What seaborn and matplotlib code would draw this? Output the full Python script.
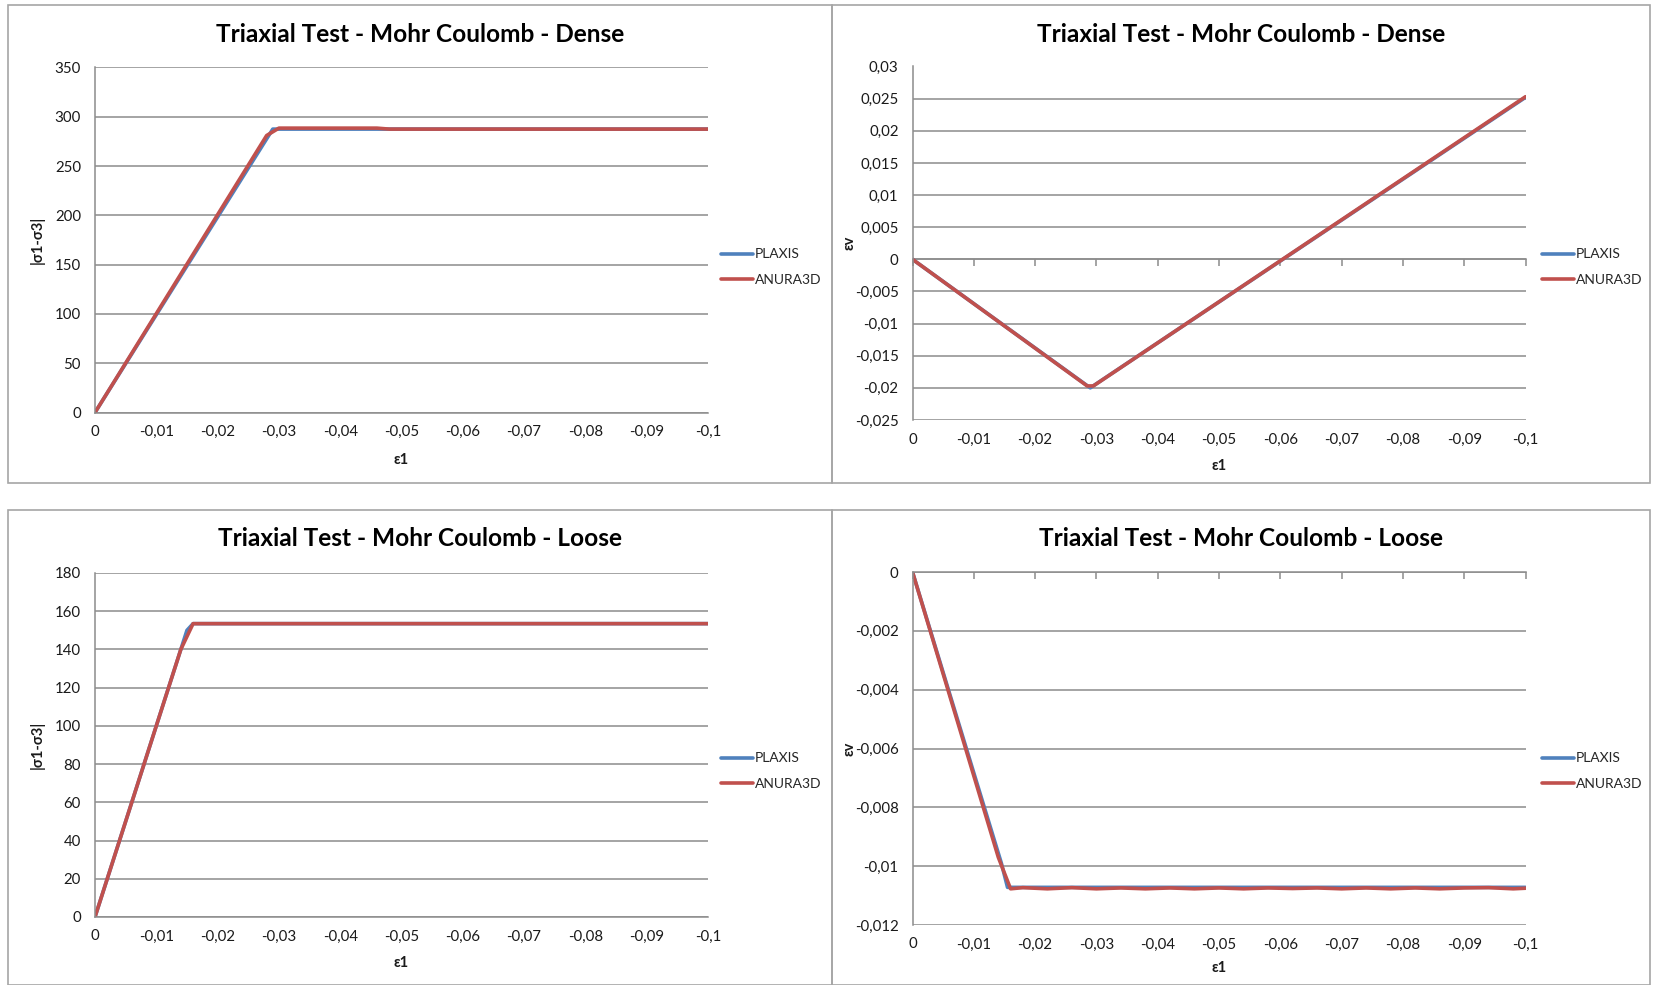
import numpy as np
import pandas as pd
import matplotlib
matplotlib.use("Agg")
import matplotlib.pyplot as plt
from matplotlib.ticker import FuncFormatter, MultipleLocator
from matplotlib.patches import Rectangle
import seaborn as sns

# ---------------- data ----------------
series_names = ["PLAXIS", "ANURA3D"]

# Dense: deviatoric stress
dense_q_plaxis_x = [0, -0.029, -0.030, -0.1]
dense_q_plaxis_y = [0, 287.5, 287.5, 287.5]
dense_q_anura_x = [0, -0.002, -0.028, -0.030, -0.046, -0.048, -0.1]
dense_q_anura_y = [0, 20, 281, 288.5, 288.5, 287.5, 287.5]

# Dense: volumetric strain
dense_ev_plaxis_x = [0, -0.029, -0.1]
dense_ev_plaxis_y = [0, -0.0200, 0.0252]
dense_ev_anura_x = [0, -0.0285, -0.0295, -0.1]
dense_ev_anura_y = [0, -0.0197, -0.0197, 0.0253]

# Loose: deviatoric stress
loose_q_plaxis_x = [0, -0.015, -0.016, -0.1]
loose_q_plaxis_y = [0, 150, 153.5, 153.5]
loose_q_anura_x = [0, -0.002, -0.014, -0.016, -0.1]
loose_q_anura_y = [0, 20, 140, 153.5, 153.5]

# Loose: volumetric strain
loose_ev_plaxis_x = [0, -0.0145, -0.0155, -0.1]
loose_ev_plaxis_y = [0, -0.0099, -0.01072, -0.01072]
loose_ev_anura_x = [0, -0.014, -0.016, -0.018, -0.022, -0.026, -0.030, -0.034,
                    -0.038, -0.042, -0.046, -0.050, -0.054, -0.058, -0.062,
                    -0.066, -0.070, -0.074, -0.078, -0.082, -0.086, -0.090,
                    -0.094, -0.098, -0.100]
loose_ev_anura_y = [0, -0.0097, -0.01077, -0.01073, -0.01077, -0.01073, -0.01077,
                    -0.01074, -0.01077, -0.01074, -0.01077, -0.01074, -0.01077,
                    -0.01074, -0.01076, -0.01074, -0.01077, -0.01074, -0.01077,
                    -0.01074, -0.01077, -0.01074, -0.01073, -0.01077, -0.01075]

titles = ["Triaxial Test - Mohr Coulomb - Dense", "Triaxial Test - Mohr Coulomb - Dense",
          "Triaxial Test - Mohr Coulomb - Loose", "Triaxial Test - Mohr Coulomb - Loose"]
ylabels = ["|σ1-σ3|", "εv", "|σ1-σ3|", "εv"]
xlabel = "ε1"
x_ticks = [0, -0.01, -0.02, -0.03, -0.04, -0.05, -0.06, -0.07, -0.08, -0.09, -0.1]

colors = {"PLAXIS": "#4F81BD", "ANURA3D": "#C0504D"}


def make_df(px, py, ax_, ay_):
    return pd.DataFrame({
        "x": list(px) + list(ax_),
        "y": list(py) + list(ay_),
        "series": ["PLAXIS"] * len(px) + ["ANURA3D"] * len(ax_),
    })


dfs = [
    make_df(dense_q_plaxis_x, dense_q_plaxis_y, dense_q_anura_x, dense_q_anura_y),
    make_df(dense_ev_plaxis_x, dense_ev_plaxis_y, dense_ev_anura_x, dense_ev_anura_y),
    make_df(loose_q_plaxis_x, loose_q_plaxis_y, loose_q_anura_x, loose_q_anura_y),
    make_df(loose_ev_plaxis_x, loose_ev_plaxis_y, loose_ev_anura_x, loose_ev_anura_y),
]

# ---------------- style ----------------
sns.set_theme(style="white")
FONT = ["Lato", "DejaVu Sans"]
plt.rcParams["font.family"] = FONT
GRID = "#8c8c8c"
TXT = "#1a1a1a"

W, H = 1654, 985
fig = plt.figure(figsize=(W / 100, H / 100), dpi=100)
fig.patch.set_facecolor("white")


def fx(px):
    return px / W


def fy(py):
    return 1 - py / H


# panel frames (pixel boxes)
panels = [(8, 5, 832, 483), (832, 5, 1650, 483), (8, 510, 832, 985), (832, 510, 1650, 985)]
for (x0, y0, x1, y1) in panels:
    fig.patches.append(Rectangle((fx(x0), fy(y1)), fx(x1 - x0), (y1 - y0) / H,
                                 transform=fig.transFigure, fill=False,
                                 edgecolor="#a6a6a6", linewidth=1.2, zorder=0))

# axes boxes in pixels: left, top, right, bottom
axes_px = [(95, 67.5, 708, 412.5), (912.5, 66.5, 1525.5, 420),
           (95, 573, 708, 917), (912.5, 572, 1525.5, 925)]
ylims = [(0, 350), (-0.025, 0.03), (0, 180), (-0.012, 0)]
ysteps = [50, 0.005, 20, 0.002]
xlabel_y = [-0.118, -0.111, -0.112, -0.103]
ylabel_x = [-0.082, -0.091, -0.082, -0.091]


def comma_fmt(v, pos=None):
    if abs(v) < 1e-12:
        return "0"
    s = f"{v:.6f}".rstrip("0").rstrip(".")
    return s.replace(".", ",")


for i, (l, t, r, b) in enumerate(axes_px):
    ax = fig.add_axes([fx(l), fy(b), (r - l) / W, (b - t) / H])
    sns.lineplot(data=dfs[i], x="x", y="y", hue="series", hue_order=series_names,
                 palette=colors, sort=False, estimator=None, linewidth=2.6,
                 ax=ax, legend=True)
    ax.set_xlim(0, -0.1)
    ax.set_ylim(*ylims[i])
    ax.yaxis.set_major_locator(MultipleLocator(ysteps[i]))
    ax.yaxis.set_major_formatter(FuncFormatter(comma_fmt))
    ax.set_xticks(x_ticks)
    ax.xaxis.set_major_formatter(FuncFormatter(comma_fmt))
    ax.grid(axis="y", color=GRID, linewidth=1.1)
    ax.grid(axis="x", visible=False)
    ax.set_axisbelow(True)
    for side in ["top", "right", "bottom"]:
        ax.spines[side].set_visible(False)
    ax.spines["left"].set_color(GRID)
    ax.spines["left"].set_linewidth(1.1)
    ax.tick_params(axis="y", length=0, pad=10, labelsize=10.8, labelcolor=TXT)
    ax.tick_params(axis="x", labelsize=10.8, labelcolor=TXT)

    if i in (0, 2):
        ax.spines["bottom"].set_visible(True)
        ax.spines["bottom"].set_color(GRID)
        ax.spines["bottom"].set_linewidth(1.1)
        ax.tick_params(axis="x", direction="out", length=5, width=1.1, color=GRID, pad=4)
    elif i == 1:
        ax.tick_params(axis="x", length=0, pad=9)
        sec = ax.secondary_xaxis(0, transform=ax.transData)
        sec.set_xticks(x_ticks)
        sec.set_xticklabels([])
        sec.spines["bottom"].set_color(GRID)
        sec.spines["bottom"].set_linewidth(1.1)
        sec.tick_params(axis="x", direction="out", length=5, width=1.1, color=GRID)
    else:
        ax.spines["top"].set_visible(True)
        ax.spines["top"].set_color(GRID)
        ax.spines["top"].set_linewidth(1.1)
        ax.tick_params(axis="x", top=True, bottom=False, labeltop=False,
                       labelbottom=True, direction="in", length=5, width=1.1,
                       color=GRID, pad=9)

    ax.set_xlabel(xlabel, fontsize=10.5, fontweight="bold", color=TXT)
    ax.set_ylabel(ylabels[i], fontsize=10.5, fontweight="bold", color=TXT)
    ax.yaxis.set_label_coords(ylabel_x[i], 0.5)
    ax.xaxis.set_label_coords(0.5, xlabel_y[i])

    # title centred on panel
    x0, y0, x1, y1 = panels[i]
    fig.text(fx((x0 + x1) / 2), fy(y0 + 29), titles[i], ha="center", va="center",
             fontsize=17.6, fontweight="bold", color="#000000", family=FONT)

    # legend
    leg_x = 721 if i in (0, 2) else 1542
    leg_y = 267 if i < 2 else 771
    ax.legend(loc="center left", bbox_to_anchor=(fx(leg_x), fy(leg_y)),
              bbox_transform=fig.transFigure, frameon=False, fontsize=10,
              handlelength=2.3, handletextpad=0.15, labelspacing=0.95,
              borderpad=0, borderaxespad=0, title=None)
    for line in ax.get_legend().get_lines():
        line.set_linewidth(2.6)

fig.savefig("out.png", dpi=100, facecolor="white")
